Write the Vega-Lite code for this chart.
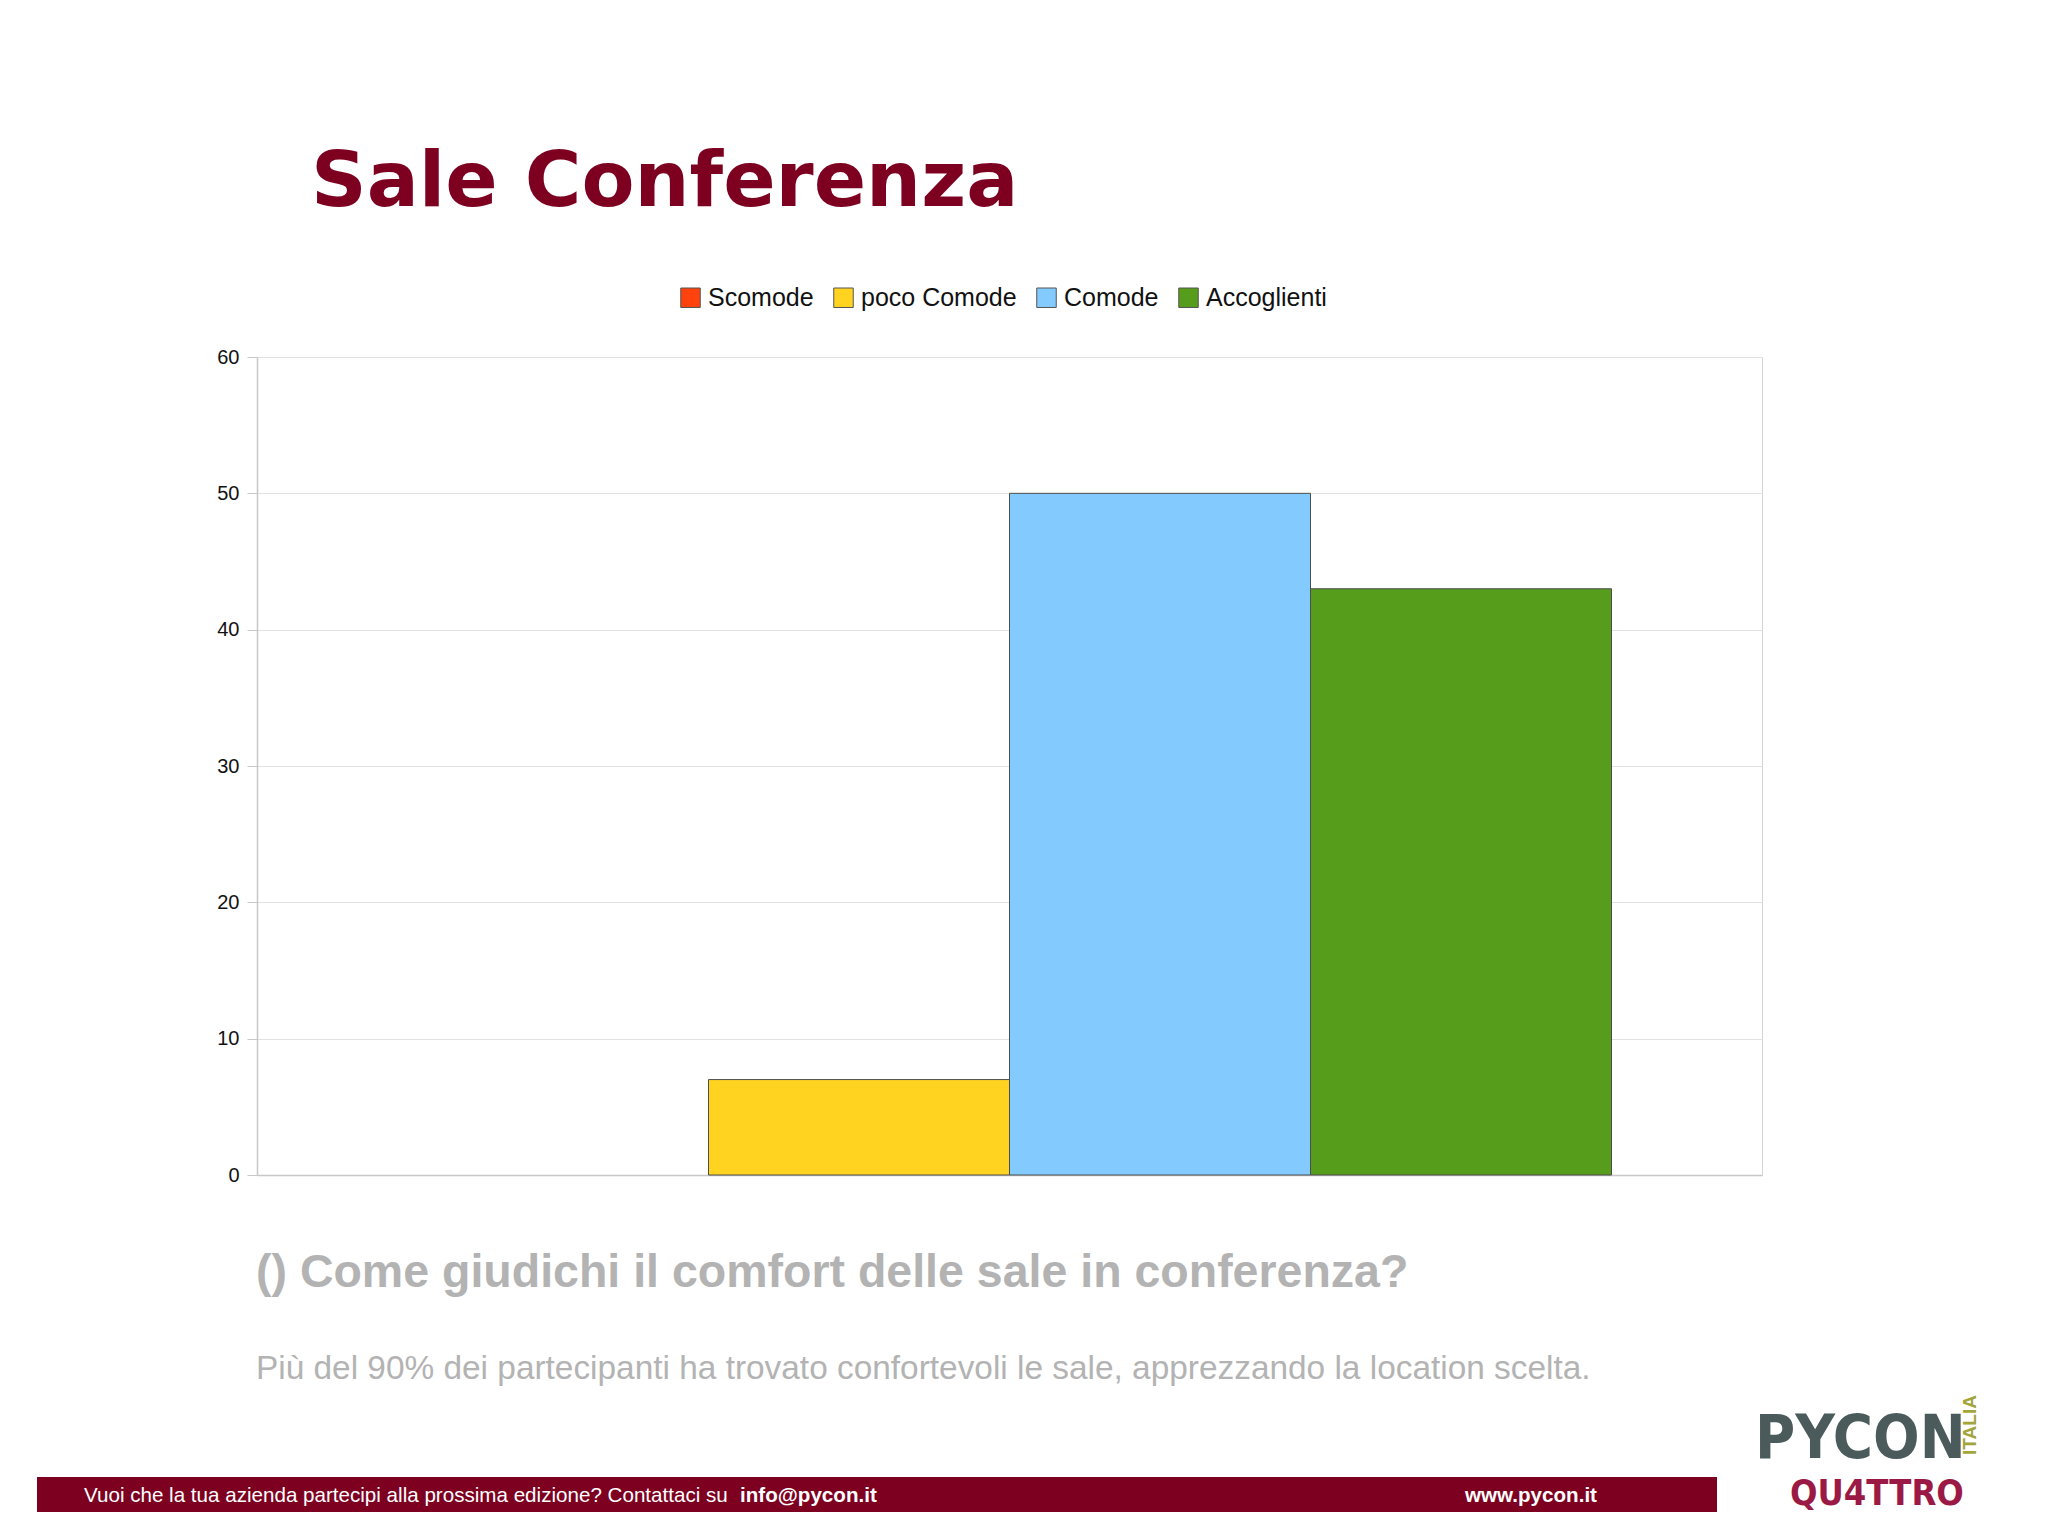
{
  "$schema": "https://vega.github.io/schema/vega-lite/v6.json",
  "width": 1505,
  "height": 818,
  "autosize": {"type": "none"},
  "padding": {"left": 257, "top": 357, "right": 286, "bottom": 360},
  "background": "#ffffff",
  "config": {"view": {"stroke": "#d4d4d4", "strokeWidth": 1}},
  "datasets": {
    "bars": [
      {"risposta": "Scomode", "n": 0},
      {"risposta": "poco Comode", "n": 7},
      {"risposta": "Comode", "n": 50},
      {"risposta": "Accoglienti", "n": 43}
    ]
  },
  "layer": [
    {
      "data": {"name": "bars"},
      "mark": {"type": "bar", "stroke": "#4d4d4d"},
      "encoding": {
        "x": {
          "field": "risposta", "type": "nominal",
          "sort": ["Scomode", "poco Comode", "Comode", "Accoglienti"],
          "scale": {"paddingInner": 0, "paddingOuter": 0.5},
          "axis": {"labels": false, "ticks": false, "title": null, "domainColor": "#c8c8c8", "domainWidth": 1.5}
        },
        "y": {
          "field": "n", "type": "quantitative",
          "scale": {"domain": [0, 60], "nice": false},
          "axis": {
            "values": [0, 10, 20, 30, 40, 50, 60],
            "title": null,
            "grid": true, "gridColor": "#e2e2e2", "gridWidth": 1,
            "domainColor": "#c8c8c8", "domainWidth": 1.5,
            "tickColor": "#c8c8c8", "tickSize": 10, "tickWidth": 1,
            "labelFont": "Liberation Sans", "labelFontSize": 20, "labelColor": "#111111",
            "labelPadding": 8
          }
        },
        "strokeWidth": {"condition": {"test": "datum.n == 0", "value": 0}, "value": 1},
        "color": {
          "field": "risposta", "type": "nominal",
          "sort": ["Scomode", "poco Comode", "Comode", "Accoglienti"],
          "scale": {
            "domain": ["Scomode", "poco Comode", "Comode", "Accoglienti"],
            "range": ["#ff420e", "#ffd320", "#83caff", "#579d1c"]
          },
          "legend": {
            "title": null,
            "orient": "none",
            "legendX": 421,
            "legendY": -72,
            "direction": "horizontal",
            "columns": 4,
            "symbolType": "square",
            "symbolSize": 380,
            "symbolStrokeColor": "#555555",
            "symbolStrokeWidth": 1,
            "labelFont": "Liberation Sans",
            "labelFontSize": 25,
            "labelColor": "#111111",
            "labelOffset": 5,
            "columnPadding": 17
          }
        }
      }
    },
    {
      "data": {"values": [{"t": "Sale Conferenza"}]},
      "mark": {"type": "text", "x": 54, "y": -151, "align": "left", "baseline": "alphabetic", "font": "DejaVu Sans", "fontWeight": "bold", "fontSize": 77.3, "color": "#7e0021"},
      "encoding": {"text": {"field": "t"}}
    },
    {
      "data": {"values": [{"t": "() Come giudichi il comfort delle sale in conferenza?"}]},
      "mark": {"type": "text", "x": -1, "y": 930, "align": "left", "baseline": "alphabetic", "font": "Liberation Sans", "fontWeight": "bold", "fontSize": 46.5, "color": "#b3b3b3"},
      "encoding": {"text": {"field": "t"}}
    },
    {
      "data": {"values": [{"t": "Più del 90% dei partecipanti ha trovato confortevoli le sale, apprezzando la location scelta."}]},
      "mark": {"type": "text", "x": -1, "y": 1022, "align": "left", "baseline": "alphabetic", "font": "Liberation Sans", "fontSize": 33.4, "color": "#b3b3b3"},
      "encoding": {"text": {"field": "t"}}
    },
    {
      "data": {"values": [{"t": "footer"}]},
      "mark": {"type": "rect", "x": -220, "x2": 1460, "y": 1120, "y2": 1155, "color": "#7e0021"},
      "encoding": {}
    },
    {
      "data": {"values": [{"t": "Vuoi che la tua azienda partecipi alla prossima edizione? Contattaci su"}]},
      "mark": {"type": "text", "x": -173, "y": 1145, "align": "left", "baseline": "alphabetic", "font": "Liberation Sans", "fontSize": 20.6, "color": "#ffffff"},
      "encoding": {"text": {"field": "t"}}
    },
    {
      "data": {"values": [{"t": "info@pycon.it"}]},
      "mark": {"type": "text", "x": 483, "y": 1145, "align": "left", "baseline": "alphabetic", "font": "Liberation Sans", "fontWeight": "bold", "fontSize": 20.6, "color": "#ffffff"},
      "encoding": {"text": {"field": "t"}}
    },
    {
      "data": {"values": [{"t": "www.pycon.it"}]},
      "mark": {"type": "text", "x": 1208, "y": 1145, "align": "left", "baseline": "alphabetic", "font": "Liberation Sans", "fontWeight": "bold", "fontSize": 20.6, "color": "#ffffff"},
      "encoding": {"text": {"field": "t"}}
    },
    {
      "data": {"values": [{"t": "PYCON"}]},
      "mark": {"type": "text", "x": 1498, "y": 1101, "align": "left", "baseline": "alphabetic", "font": "DejaVu Sans Condensed, sans-serif", "fontWeight": "bold", "fontSize": 61, "color": "#4b5b5b"},
      "encoding": {"text": {"field": "t"}}
    },
    {
      "data": {"values": [{"t": "QU4TTRO"}]},
      "mark": {"type": "text", "x": 1533, "y": 1148, "align": "left", "baseline": "alphabetic", "font": "DejaVu Sans Condensed, sans-serif", "fontWeight": "bold", "fontSize": 36, "color": "#9b1a45"},
      "encoding": {"text": {"field": "t"}}
    },
    {
      "data": {"values": [{"t": "ITALIA"}]},
      "mark": {"type": "text", "x": 1713, "y": 1068, "align": "center", "baseline": "middle", "angle": 270, "font": "Liberation Sans", "fontWeight": "bold", "fontSize": 19, "color": "#a3a43a"},
      "encoding": {"text": {"field": "t"}}
    }
  ]
}
